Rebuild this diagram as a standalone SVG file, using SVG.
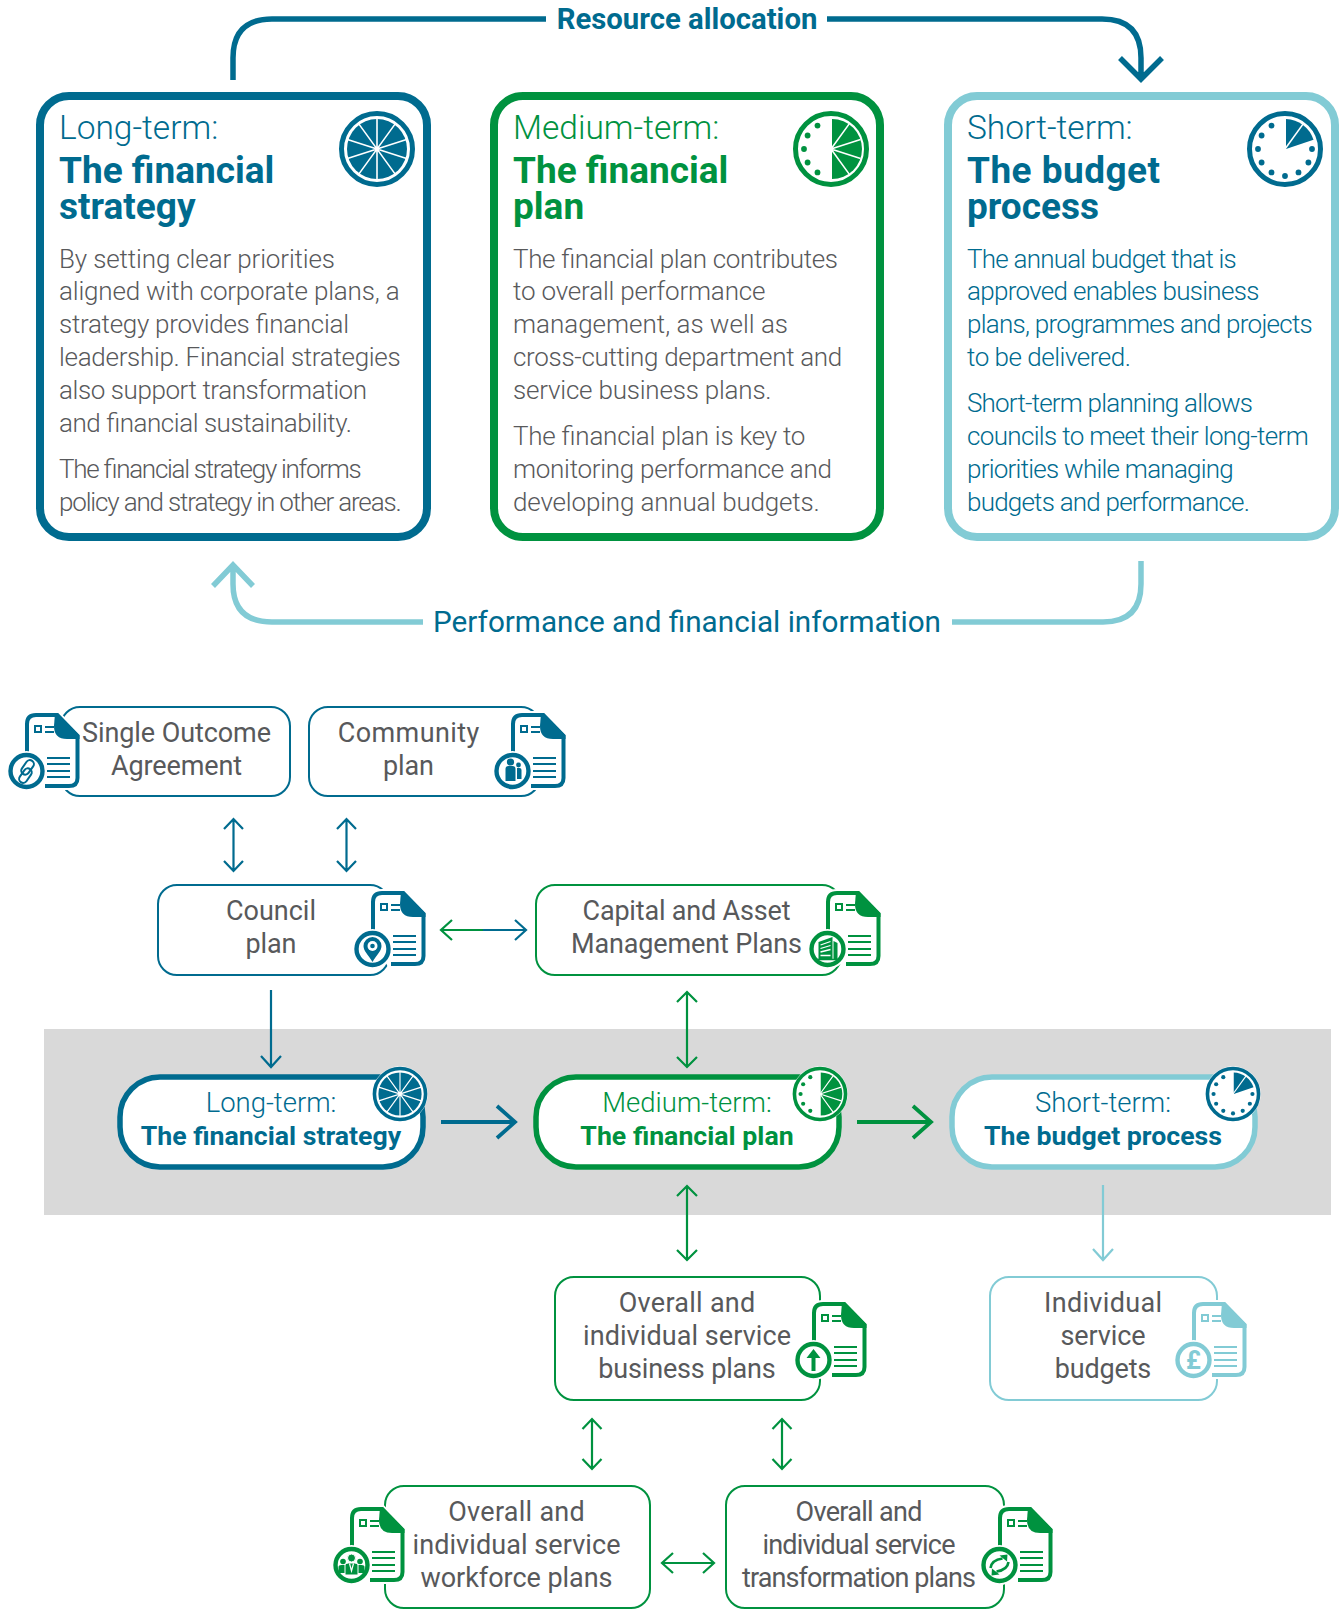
<svg xmlns="http://www.w3.org/2000/svg" width="1341" height="1609" viewBox="0 0 1341 1609">
<style>
text{font-family:Roboto,"Liberation Sans",sans-serif}
.t{color:#006b8f}.g{color:#00923f}.l{color:#82cbd5}
.card{fill:#fff;stroke-width:8}
.pill{fill:#fff;stroke-width:5.5}
.box{fill:#fff;stroke-width:2}
.sT{stroke:#006b8f}.sG{stroke:#00923f}.sL{stroke:#82cbd5}
.fT{fill:#006b8f}.fG{fill:#00923f}
.h1{font-size:33.5px;font-weight:300}
.h2{font-size:37px;font-weight:700}
.b{font-size:26px;font-weight:300;fill:#58595b}
.bt{font-size:26px;font-weight:300;fill:#006b8f}
.lb{font-size:27px;font-weight:400;fill:#58595b;text-anchor:middle}
.p1{font-size:27.500px;font-weight:300;text-anchor:middle}
.p2{font-size:26.700px;font-weight:700;text-anchor:middle}
.c{fill:none;stroke-linecap:butt;stroke-linejoin:miter}
.c2{stroke-width:2.2}.c4{stroke-width:3.8}.c5{stroke-width:5.5}
</style>
<defs>
<g id="doc">
<path d="M2,42V11Q2,2 11,2H32L52.5,23V65Q52.5,73 44,73H20Z" fill="#fff" stroke="#fff" stroke-width="8"/>
<path d="M2,40V11Q2,2 11,2H32L52.5,23V65Q52.5,73 44,73H20" fill="none" stroke="currentColor" stroke-width="4"/>
<path d="M30,0H33L54.5,22V26H42Q29,26 29,13Z" fill="currentColor"/>
<rect x="10" y="13" width="6" height="6" fill="none" stroke="currentColor" stroke-width="2"/>
<path d="M20,14H29M20,19H29M22,45H45M22,51H45M22,58H45M22,64H45" stroke="currentColor" stroke-width="2" fill="none"/>
<circle cx="1.500" cy="58" r="20" fill="#fff"/>
<circle cx="1.500" cy="58" r="16" fill="#fff" stroke="currentColor" stroke-width="4.400"/>
</g>
<g id="wheel">
<circle r="35.500" fill="#fff" stroke="currentColor" stroke-width="5"/>
<circle r="30" fill="currentColor"/>
<path d="M0,-31V31M18.200,-25.100L-18.200,25.100M29.500,-9.600L-29.500,9.600M29.500,9.600L-29.500,-9.600M18.200,25.100L-18.200,-25.100" stroke="#fff" stroke-width="1.600" fill="none"/>
</g>
<g id="half">
<circle r="35.500" fill="#fff" stroke="currentColor" stroke-width="5"/>
<path d="M1,-30A30,30 0 0 1 1,30Z" fill="currentColor"/>
<path d="M0,0L18.200,-25.100M0,0L29.500,-9.600M0,0L29.500,9.600M0,0L18.200,25.100" stroke="#fff" stroke-width="1.600" fill="none"/>
<g fill="currentColor"><circle cx="-13.500" cy="-23.400" r="2.900"/><circle cx="-23.400" cy="-13.500" r="2.900"/><circle cx="-27" cy="0" r="2.900"/><circle cx="-23.400" cy="13.500" r="2.900"/><circle cx="-13.500" cy="23.400" r="2.900"/></g>
</g>
<g id="clock">
<circle r="35.500" fill="#fff" stroke="currentColor" stroke-width="5"/>
<path d="M1,-30A30,30 0 0 1 28.500,-9.300L1,0Z" fill="currentColor"/>
<path d="M0,0L18.200,-25.100" stroke="#fff" stroke-width="1.600" fill="none"/>
<g fill="currentColor"><circle cx="-13.500" cy="-23.400" r="2.900"/><circle cx="-23.400" cy="-13.500" r="2.900"/><circle cx="-27" cy="0" r="2.900"/><circle cx="-23.400" cy="13.500" r="2.900"/><circle cx="-13.500" cy="23.400" r="2.900"/><circle cx="0" cy="27" r="2.900"/><circle cx="13.500" cy="23.400" r="2.900"/><circle cx="23.400" cy="13.500" r="2.900"/><circle cx="27" cy="0" r="2.900"/></g>
</g>
<g id="swoop"><path d="M-9,3Q-8,-5 3,-6.500" fill="none" stroke="currentColor" stroke-width="2.600"/><path d="M8,-10.500L7.500,-3.500L0,-9.500Z"/></g>
</defs>

<rect x="44" y="1029" width="1287" height="186" fill="#d9d9d9"/>

<g id="connectors">
<path class="c c5 sT" d="M233,80V58Q233,19 272,19H546"/>
<path class="c c5 sT" d="M827,19H1102Q1141,19 1141,58V78M1120,58L1141,79L1162,58"/>
<path class="c c5 sL" d="M1141,561V584Q1141,622 1103,622H952"/>
<path class="c c5 sL" d="M423,622H272Q233,622 233,584V565M213,586L233,565L253,586"/>
<path class="c c2 sT" d="M233.500,820V870M224,829L233.500,819L243,829M224,861L233.500,871L243,861"/>
<path class="c c2 sT" d="M346.500,820V870M337,829L346.500,819L356,829M337,861L346.500,871L356,861"/>
<path class="c c2 sG" d="M483,930H442M452,920L441,930L452,940"/>
<path class="c c2 sT" d="M483,930H525M515,920L526,930L515,940"/>
<path class="c c2 sT" d="M271,990V1066M261,1056L271,1067L281,1056"/>
<path class="c c2 sG" d="M687,992V1066M677,1002L687,992L697,1002M677,1057L687,1067L697,1057"/>
<path class="c c4 sT" d="M441,1122H514M497,1106L515,1122L497,1138"/>
<path class="c c4 sG" d="M857,1122H930M913,1106L931,1122L913,1138"/>
<path class="c c2 sG" d="M687,1186V1260M677,1196L687,1186L697,1196M677,1250L687,1260L697,1250"/>
<path class="c c2 sL" d="M1103,1185V1259M1093,1249L1103,1260L1113,1249"/>
<path class="c c2 sG" d="M592,1419V1469M582.500,1429L592,1419L601.500,1429M582.500,1459L592,1469L601.500,1459"/>
<path class="c c2 sG" d="M782,1419V1469M772.500,1429L782,1419L791.500,1429M772.500,1459L782,1469L791.500,1459"/>
<path class="c c2 sG" d="M663,1563H713M673,1553L662,1563L673,1573M703,1553L714,1563L703,1573"/>
</g>

<text x="687" y="29" class="fT" text-anchor="middle" font-size="29.300" font-weight="700">Resource allocation</text>
<text x="687" y="632" class="fT" text-anchor="middle" font-size="29.700" font-weight="400">Performance and financial information</text>

<g id="card-long" class="t">
<rect class="card sT" x="40" y="96" width="387" height="441" rx="29"/>
<use href="#wheel" x="377" y="149"/>
<text x="59" y="139" class="h1 fT">Long-term:</text>
<text class="h2 fT"><tspan x="59" y="183">The financial</tspan><tspan x="59" y="219">strategy</tspan></text>
<text class="b" x="59" y="268" textLength="276">By setting clear priorities</text>
<text class="b" x="59" y="300" textLength="340.600">aligned with corporate plans, a</text>
<text class="b" x="59" y="333" textLength="290">strategy provides financial</text>
<text class="b" x="59" y="366" textLength="341.700">leadership. Financial strategies</text>
<text class="b" x="59" y="399" textLength="308">also support transformation</text>
<text class="b" x="59" y="432" textLength="293">and financial sustainability.</text>
<text class="b" x="59" y="478" textLength="302.700">The financial strategy informs</text>
<text class="b" x="59" y="511" textLength="342.700">policy and strategy in other areas.</text>
</g>
<g id="card-medium" class="g">
<rect class="card sG" x="494" y="96" width="386" height="441" rx="29"/>
<use href="#half" x="831" y="149"/>
<text x="513" y="139" class="h1 fG">Medium-term:</text>
<text class="h2 fG"><tspan x="513" y="183">The financial</tspan><tspan x="513" y="219">plan</tspan></text>
<text class="b" x="513" y="268" textLength="325">The financial plan contributes</text>
<text class="b" x="513" y="300" textLength="252.400">to overall performance</text>
<text class="b" x="513" y="333" textLength="275">management, as well as</text>
<text class="b" x="513" y="366" textLength="329.300">cross-cutting department and</text>
<text class="b" x="513" y="399" textLength="258.600">service business plans.</text>
<text class="b" x="513" y="445" textLength="292.400">The financial plan is key to</text>
<text class="b" x="513" y="478" textLength="319">monitoring performance and</text>
<text class="b" x="513" y="511" textLength="306.800">developing annual budgets.</text>
</g>
<g id="card-short" class="t">
<rect class="card sL" x="948" y="96" width="387" height="441" rx="29"/>
<use href="#clock" x="1285" y="149"/>
<text x="967" y="139" class="h1 fT">Short-term:</text>
<text class="h2 fT"><tspan x="967" y="183" textLength="193">The budget</tspan><tspan x="967" y="219">process</tspan></text>
<text class="bt" x="967" y="268" textLength="269.800">The annual budget that is</text>
<text class="bt" x="967" y="300" textLength="292.400">approved enables business</text>
<text class="bt" x="967" y="333" textLength="345.800">plans, programmes and projects</text>
<text class="bt" x="967" y="366" textLength="164">to be delivered.</text>
<text class="bt" x="967" y="412" textLength="286">Short-term planning allows</text>
<text class="bt" x="967" y="445" textLength="341.700">councils to meet their long-term</text>
<text class="bt" x="967" y="478" textLength="266.800">priorities while managing</text>
<text class="bt" x="967" y="511" textLength="283">budgets and performance.</text>
</g>

<g id="node-soa" class="t">
<rect class="box sT" x="61" y="707" width="229" height="89" rx="19"/>
<use href="#doc" x="25" y="713"/>
<g transform="translate(26.500,771.500) rotate(35)" fill="none" stroke="currentColor" stroke-width="2"><rect x="-5.500" y="-12" width="8" height="16" rx="4"/><rect x="-2.500" y="-4" width="8" height="16" rx="4"/></g>
<text class="lb" x="176.500" y="742" textLength="189">Single Outcome</text>
<text class="lb" x="176.500" y="775" textLength="131">Agreement</text>
</g>
<g id="node-community" class="t">
<rect class="box sT" x="309" y="707" width="231" height="89" rx="19"/>
<use href="#doc" x="511" y="713"/>
<g transform="translate(512.500,771)" fill="currentColor"><circle cx="-2" cy="-9" r="3.600"/><path d="M-7,10V-2Q-7,-5 -4,-5H0Q3,-5 3,-2V10Z"/><circle cx="6" cy="-6" r="2.400"/><path d="M4.500,-3H7Q9,-3 9,-1V8H4.500Z"/></g>
<text class="lb" x="408.500" y="742" textLength="141.600">Community</text>
<text class="lb" x="408.500" y="775" textLength="51">plan</text>
</g>
<g id="node-council" class="t">
<rect class="box sT" x="158" y="885" width="231" height="90" rx="19"/>
<use href="#doc" x="371" y="891"/>
<g transform="translate(372.500,949)"><path d="M0,13C-4,6 -9,2 -9,-3A9,9 0 0 1 9,-3C9,2 4,6 0,13Z" fill="currentColor"/><circle cy="-3" r="5" fill="#fff"/><circle cy="-3" r="2.300" fill="currentColor"/></g>
<text class="lb" x="271" y="920" textLength="90">Council</text>
<text class="lb" x="271" y="953" textLength="51">plan</text>
</g>
<g id="node-capital" class="g">
<rect class="box sG" x="536" y="885" width="305" height="90" rx="19"/>
<use href="#doc" x="826" y="891"/>
<g transform="translate(827.500,949)" fill="currentColor"><path d="M-9,-7L5,-12V10H-9Z"/><path d="M6,-8L10,-6V10H6Z"/><path d="M-11,10.500H11" stroke="currentColor" stroke-width="1.500"/><path d="M-7,-4L3,-7.500M-7,-.500L3,-3.500M-7,3L3,.500M-7,6.500H3" stroke="#fff" stroke-width="1.300" fill="none"/></g>
<text class="lb" x="686.500" y="920" textLength="208">Capital and Asset</text>
<text class="lb" x="686.500" y="953" textLength="231">Management Plans</text>
</g>

<g id="pill-long" class="t">
<rect class="pill sT" x="120" y="1077" width="303" height="90" rx="40"/>
<g transform="translate(400,1094) scale(.72)"><circle r="38.500" fill="#fff"/><use href="#wheel"/></g>
<text class="p1 fT" x="271" y="1112">Long-term:</text>
<text class="p2 fT" x="271" y="1145">The financial strategy</text>
</g>
<g id="pill-medium" class="g">
<rect class="pill sG" x="536" y="1077" width="303" height="90" rx="40"/>
<g transform="translate(820,1094) scale(.72)"><circle r="38.500" fill="#fff"/><use href="#half"/></g>
<text class="p1 fG" x="687" y="1112">Medium-term:</text>
<text class="p2 fG" x="687" y="1145">The financial plan</text>
</g>
<g id="pill-short" class="t">
<rect class="pill sL" x="952" y="1077" width="303" height="90" rx="40"/>
<g transform="translate(1233,1094) scale(.72)"><circle r="38.500" fill="#fff"/><use href="#clock"/></g>
<text class="p1 fT" x="1103" y="1112">Short-term:</text>
<text class="p2 fT" x="1103" y="1145">The budget process</text>
</g>

<g id="node-business" class="g">
<rect class="box sG" x="555" y="1277" width="265" height="123" rx="19"/>
<use href="#doc" x="812" y="1302"/>
<path transform="translate(813.500,1360)" d="M-2,11V-2H-7L0,-11L7,-2H2V11Z" fill="currentColor"/>
<text class="lb" x="687" y="1312" textLength="136.500">Overall and</text>
<text class="lb" x="687" y="1345" textLength="208">individual service</text>
<text class="lb" x="687" y="1378" textLength="177.500">business plans</text>
</g>
<g id="node-budgets" class="l">
<rect class="box sL" x="990" y="1277" width="227" height="123" rx="19"/>
<use href="#doc" x="1192" y="1302"/>
<text x="1193.500" y="1369" text-anchor="middle" font-size="25" font-weight="700" fill="#82cbd5">£</text>
<text class="lb" x="1103" y="1312" textLength="118">Individual</text>
<text class="lb" x="1103" y="1345" textLength="85">service</text>
<text class="lb" x="1103" y="1378" textLength="96.500">budgets</text>
</g>
<g id="node-workforce" class="g">
<rect class="box sG" x="385" y="1486" width="265" height="122" rx="19"/>
<use href="#doc" x="350" y="1507"/>
<g transform="translate(351.500,1565)" fill="currentColor"><circle cx="-8.500" cy="-3.500" r="2.800"/><path d="M-13,8V2Q-13,0 -10,0H-6V8Z"/><circle cx="8.500" cy="-3.500" r="2.800"/><path d="M6,8V0H10Q13,0 13,2V8Z"/><circle cy="-7" r="4" stroke="#fff"/><path d="M-6.500,10V0Q-6.500,-2 -3,-2H3Q6.500,-2 6.500,0V10Z" stroke="#fff"/><path d="M-2,-1.500L0,6L2,-1.500" fill="none" stroke="#fff" stroke-width="1.200"/></g>
<text class="lb" x="516.500" y="1521" textLength="136.500">Overall and</text>
<text class="lb" x="516.500" y="1554" textLength="208">individual service</text>
<text class="lb" x="516.500" y="1587" textLength="192">workforce plans</text>
</g>
<g id="node-transformation" class="g">
<rect class="box sG" x="726" y="1486" width="278" height="122" rx="19"/>
<use href="#doc" x="998" y="1507"/>
<g transform="translate(999.500,1565)" fill="currentColor"><use href="#swoop"/><use href="#swoop" transform="rotate(180)"/></g>
<text class="lb" x="859" y="1521" textLength="127">Overall and</text>
<text class="lb" x="859" y="1554" textLength="193">individual service</text>
<text class="lb" x="859" y="1587" textLength="234">transformation plans</text>
</g>
</svg>
